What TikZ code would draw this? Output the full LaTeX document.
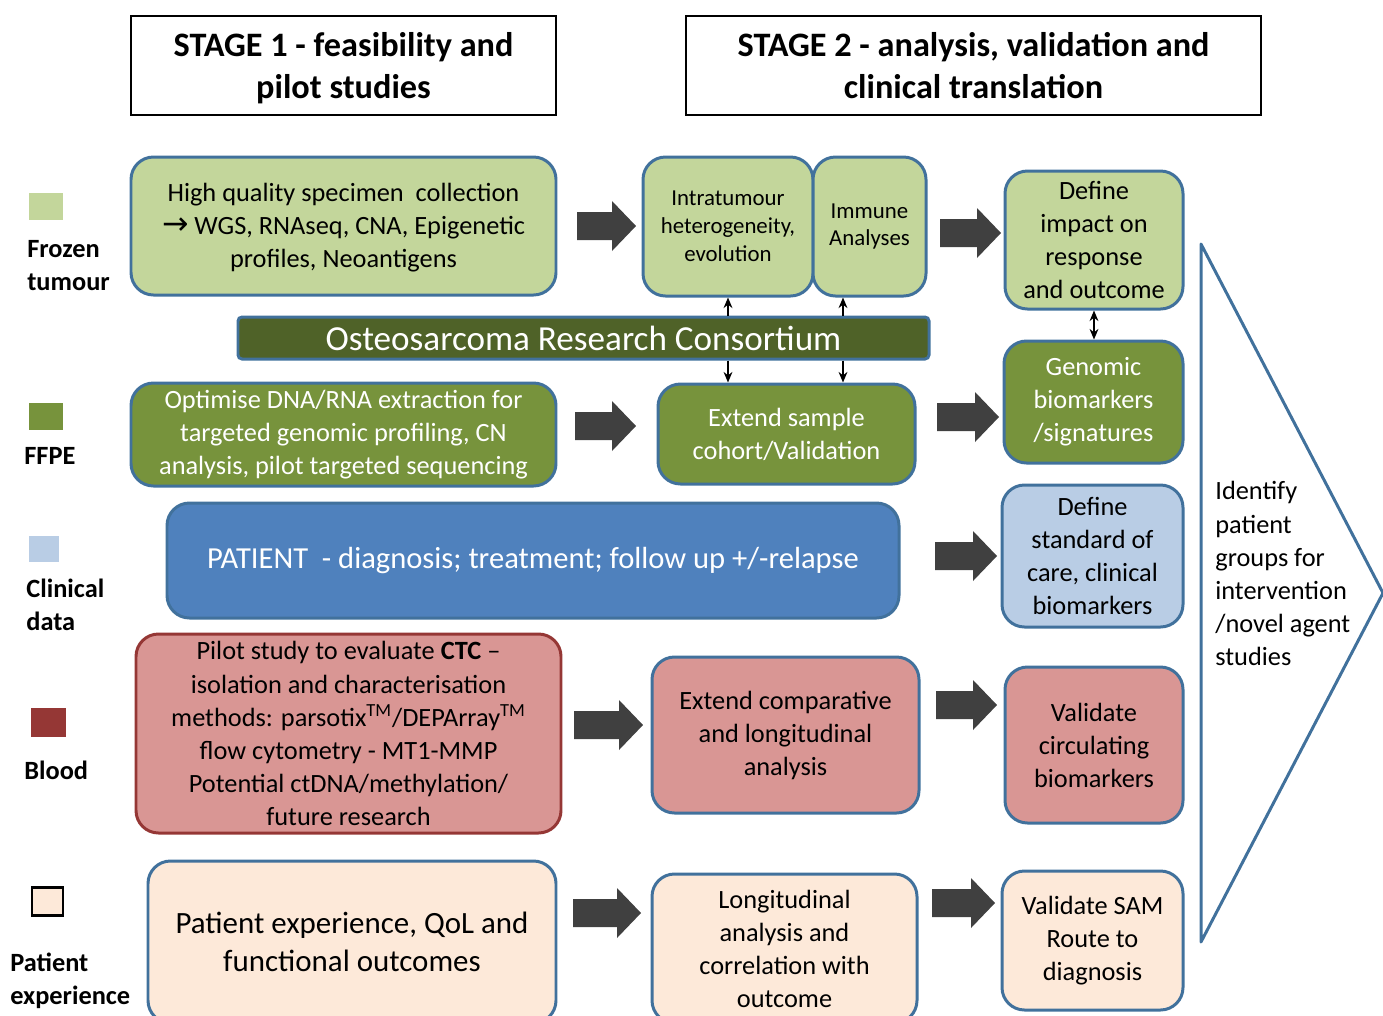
\documentclass[tikz,border=0pt]{standalone}
\usepackage{fontspec}
\setmainfont{Carlito}
\newfontfamily\arrowfont{DejaVu Sans}
\usetikzlibrary{arrows.meta}
\definecolor{OrcLightGreen}{HTML}{C3D69B}
\definecolor{OrcGreen}{HTML}{77933C}
\definecolor{OrcDarkGreen}{HTML}{4F6228}
\definecolor{OrcBlue}{HTML}{4F81BD}
\definecolor{OrcLightBlue}{HTML}{B9CDE5}
\definecolor{OrcPink}{HTML}{D99694}
\definecolor{OrcDarkRed}{HTML}{953735}
\definecolor{OrcPeach}{HTML}{FDE9D9}
\definecolor{OrcBorder}{HTML}{41719C}
\definecolor{OrcArrow}{HTML}{404040}
\newcommand{\boxfont}{\fontsize{15}{18.8}\selectfont}
\newcommand{\smallboxfont}{\fontsize{13}{15.9}\selectfont}
\newcommand{\headfont}{\fontsize{19.5}{23.9}\selectfont\bfseries}
\newcommand{\legfont}{\fontsize{15}{18.8}\selectfont\bfseries}
\tikzset{pics/blockarrow/.style={code={%
  \fill[OrcArrow] (0,-14) -- ({#1-24},-14) -- ({#1-24},-25) -- (#1,0) -- ({#1-24},25) -- ({#1-24},14) -- (0,14) -- cycle;}}}

\begin{document}
\begin{tikzpicture}[x=0.02cm,y=-0.02cm,
  sz/.style 2 args={minimum width=#1*0.02cm,minimum height=#2*0.02cm},
  box/.style={draw=OrcBorder,line width=1.7pt,rounded corners=0.45cm,align=center,inner sep=0pt,font=\boxfont},
  headbox/.style={draw=black,line width=1.2pt,align=center,inner sep=0pt,font=\headfont},
  legsq/.style={inner sep=0pt},
  leglabel/.style={anchor=west,align=left,inner sep=0pt,font=\legfont},
  link/.style={-{Stealth[length=6pt,width=5pt]},line width=1pt}]
\useasboundingbox (0,0) rectangle (1383,1015);
% pixel grid: x to the right, y downwards, 1383 x 1015

% stage headers
\node[headbox,sz={425}{99},text depth=0pt] (stage1) at (343.5,65.5) {STAGE 1 - feasibility and\\pilot studies};
\node[headbox,sz={575}{99}] (stage2) at (973.5,65.5) {STAGE 2 - analysis, validation and\\clinical translation};

% legend
\node[legsq,fill=OrcLightGreen,sz={34}{27}] (legfrozen) at (46,206.5) {};
\node[leglabel] (labfrozen) at (27,266) {Frozen\\tumour};
\node[legsq,fill=OrcGreen,sz={34}{27}] (legffpe) at (46,416.5) {};
\node[leglabel] (labffpe) at (24,456) {FFPE};
\node[legsq,fill=OrcLightBlue,sz={30}{26}] (legclin) at (44,549) {};
\node[leglabel] (labclin) at (26,605) {Clinical\\data};
\node[legsq,fill=OrcDarkRed,sz={35}{29}] (legblood) at (48.5,722.5) {};
\node[leglabel] (labblood) at (24,770) {Blood};
\node[legsq,draw=black,line width=1.7pt,fill=OrcPeach,sz={31}{28}] (legpat) at (47.5,901) {};
\node[leglabel] (labpat) at (10,981) {Patient\\experience};

% frozen tumour row
\node[box,fill=OrcLightGreen,sz={425}{138}] (hq) at (343.5,226) {};
\node[align=center,inner sep=0pt,font=\boxfont] (hqtext) at (343.5,228) {High quality specimen\ \ collection\\{\arrowfont\fontsize{18}{18.8}\selectfont →} WGS, RNAseq, CNA, Epigenetic\\profiles, Neoantigens};
\node[box,fill=OrcLightGreen,sz={170}{139},font=\smallboxfont] (intra) at (728,226.5) {Intratumour\\heterogeneity,\\evolution};
\node[box,fill=OrcLightGreen,sz={113}{139},font=\smallboxfont] (immune) at (869.5,226.5) {Immune\\Analyses};
\node[box,fill=OrcLightGreen,sz={178}{138}] (impact) at (1094,240) {Define\\impact on\\response\\and outcome};

% consortium banner
\node[draw=OrcBorder,line width=1.7pt,fill=OrcDarkGreen,rounded corners=0.08cm,sz={691}{42},inner sep=0pt,text=white,font=\fontsize{20}{24}\selectfont] (orc) at (583.5,338) {Osteosarcoma Research Consortium};

% FFPE row
\node[box,fill=OrcGreen,text=white,sz={425}{103}] (optim) at (343.5,434.5) {Optimise DNA/RNA extraction for\\targeted genomic profiling, CN\\analysis, pilot targeted sequencing};
\node[box,fill=OrcGreen,text=white,sz={257}{100}] (extsample) at (786.5,434) {Extend sample\\cohort/Validation};
\node[box,fill=OrcGreen,text=white,sz={179}{122}] (genomic) at (1093.5,402) {Genomic\\biomarkers\\/signatures};

% clinical row
\node[box,fill=OrcBlue,text=white,sz={732}{115},font=\fontsize{17.4}{21}\selectfont] (patient) at (533,560.5) {PATIENT\ \ - diagnosis; treatment; follow up +/-relapse};
\node[box,fill=OrcLightBlue,sz={181}{142}] (standard) at (1092.5,556) {Define\\standard of\\care, clinical\\biomarkers};

% blood row
\node[box,draw=OrcDarkRed,fill=OrcPink,sz={425}{199}] (pilot) at (348.5,733.5) {Pilot study to evaluate \textbf{CTC} --\\isolation and characterisation\\methods: parsotix\textsuperscript{TM}/DEPArray\textsuperscript{TM}\\flow cytometry - MT1-MMP\\Potential ctDNA/methylation/\\future research};
\node[box,fill=OrcPink,sz={267}{156}] (extcomp) at (785.5,735) {Extend comparative\\and longitudinal\\analysis};
\node[box,fill=OrcPink,sz={178}{156}] (valcirc) at (1094,745) {Validate\\circulating\\biomarkers};

% patient experience row
\node[box,fill=OrcPeach,sz={408}{162},font=\fontsize{17.6}{21.5}\selectfont] (patexp) at (352,942) {Patient experience, QoL and\\functional outcomes};
\node[box,fill=OrcPeach,sz={265}{149}] (longit) at (784.5,948.5) {Longitudinal\\analysis and\\correlation with\\outcome};
\node[box,fill=OrcPeach,sz={181}{139}] (valsam) at (1092.5,940.5) {Validate SAM\\Route to\\diagnosis};

% block arrows between the columns (left end, mid height, length)
\foreach \n/\x/\y/\l in {a11/577/226/59, a12/940/233/61, a21/575/426/61, a22/937/417/62,
                         a32/935/556/62, a41/574/725/69, a42/936/705/61, a51/573/913/68, a52/932/903/63}
  {\pic (\n) at (\x,\y) {blockarrow=\l};}

% links to and from the consortium
\coordinate (imx) at (843,0);
\draw[link] (orc.north -| intra.south) -- (intra.south);
\draw[link] (orc.north -| imx) -- (immune.south -| imx);
\draw[link] (orc.south -| intra.south) -- (extsample.north -| intra.south);
\draw[link] (orc.south -| imx) -- (extsample.north -| imx);
\draw[link,{Stealth[length=6pt,width=5pt]}-{Stealth[length=6pt,width=5pt]}] (impact.south) -- (impact.south |- genomic.north);

% final triangle
\draw[OrcBorder,line width=1.7pt,line join=round] (1201,244) -- (1383,593) -- (1201,942) -- cycle;
\node[anchor=west,align=left,inner sep=0pt,font=\boxfont] (identify) at (1215,573.5) {Identify\\patient\\groups for\\intervention\\/novel agent\\studies};
\end{tikzpicture}
\end{document}
